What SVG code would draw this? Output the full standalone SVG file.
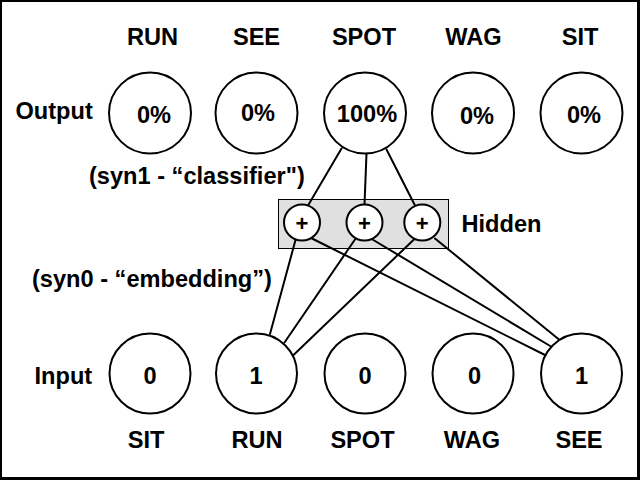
<svg xmlns="http://www.w3.org/2000/svg" width="640" height="480" viewBox="0 0 640 480">
<style>
  .t { font-family: "Liberation Sans", Arial, Helvetica, sans-serif; font-weight: bold; font-size: 23.6px; fill: #000; }
  .m { text-anchor: middle; }
  .p { font-size: 22px; }
  .node { fill: #fff; stroke: #000; stroke-width: 2; }
  .conn line { stroke: #000; stroke-width: 2; stroke-linecap: round; }
</style>
<rect x="0" y="0" width="640" height="480" fill="#000"/>
<rect x="2" y="2" width="635" height="475" fill="#fff"/>

<g id="labels-top" class="t m">
  <text x="152.5" y="45">RUN</text>
  <text x="256.5" y="45">SEE</text>
  <text x="364" y="45">SPOT</text>
  <text x="473.5" y="45">WAG</text>
  <text x="580" y="45">SIT</text>
</g>
<text class="t" x="15.5" y="118.5">Output</text>
<text class="t" x="89" y="183.5">(syn1 - “classifier")</text>
<text class="t" x="32" y="287">(syn0 - “embedding”)</text>
<text class="t" x="461.5" y="231.5">Hidden</text>
<text class="t" x="34.5" y="383.5">Input</text>
<g id="labels-bottom" class="t m">
  <text x="146" y="448">SIT</text>
  <text x="257" y="448">RUN</text>
  <text x="362.5" y="448">SPOT</text>
  <text x="472" y="448">WAG</text>
  <text x="579" y="448">SEE</text>
</g>

<g id="hidden-layer">
  <rect x="278.5" y="199.5" width="170" height="49" fill="#e0e0e0" stroke="#000" stroke-width="1"/>
</g>

<g id="connectors" class="conn">
  <line x1="341.5" y1="148.5" x2="308" y2="205.5"/>
  <line x1="366.5" y1="153.5" x2="364.5" y2="204.5"/>
  <line x1="386.5" y1="149.5" x2="415" y2="205.5"/>
  <line x1="295.5" y1="240" x2="270" y2="334"/>
  <line x1="311" y1="238" x2="545" y2="355"/>
  <line x1="356" y1="238" x2="284.5" y2="342.5"/>
  <line x1="371.7" y1="239" x2="551" y2="346.5"/>
  <line x1="415" y1="238.5" x2="293.5" y2="355"/>
  <line x1="435" y1="238.5" x2="559" y2="339.5"/>
</g>

<g id="out-run"><ellipse class="node" cx="150" cy="113" rx="41" ry="40.5"/><text class="t m" x="154" y="122.5">0%</text></g>
<g id="out-see"><ellipse class="node" cx="256.5" cy="113" rx="41" ry="40.5"/><text class="t m" x="258" y="120.5">0%</text></g>
<g id="out-spot"><ellipse class="node" cx="365" cy="113" rx="41" ry="40.5"/><text class="t m" x="367" y="121.5">100%</text></g>
<g id="out-wag"><ellipse class="node" cx="473" cy="113" rx="41" ry="40.5"/><text class="t m" x="477" y="124">0%</text></g>
<g id="out-sit"><ellipse class="node" cx="581.5" cy="113" rx="41" ry="40.5"/><text class="t m" x="584" y="123">0%</text></g>

<g id="hid-1"><circle class="node" cx="302" cy="222.5" r="18"/><text class="t m p" x="302" y="230.5">+</text></g>
<g id="hid-2"><circle class="node" cx="364.5" cy="222.5" r="18"/><text class="t m p" x="364.5" y="230.5">+</text></g>
<g id="hid-3"><circle class="node" cx="422.3" cy="222.5" r="18"/><text class="t m p" x="422.3" y="230.5">+</text></g>

<g id="in-sit"><ellipse class="node" cx="150" cy="373.5" rx="40.5" ry="40"/><text class="t m" x="150" y="383.5">0</text></g>
<g id="in-run"><ellipse class="node" cx="256.5" cy="373.5" rx="40.5" ry="40"/><text class="t m" x="256" y="383.5">1</text></g>
<g id="in-spot"><ellipse class="node" cx="365" cy="373.5" rx="40.5" ry="40"/><text class="t m" x="365" y="383.5">0</text></g>
<g id="in-wag"><ellipse class="node" cx="473" cy="373.5" rx="40.5" ry="40"/><text class="t m" x="474.5" y="383.5">0</text></g>
<g id="in-see"><ellipse class="node" cx="581.5" cy="373.5" rx="40.5" ry="40"/><text class="t m" x="581.5" y="383.5">1</text></g>
</svg>
